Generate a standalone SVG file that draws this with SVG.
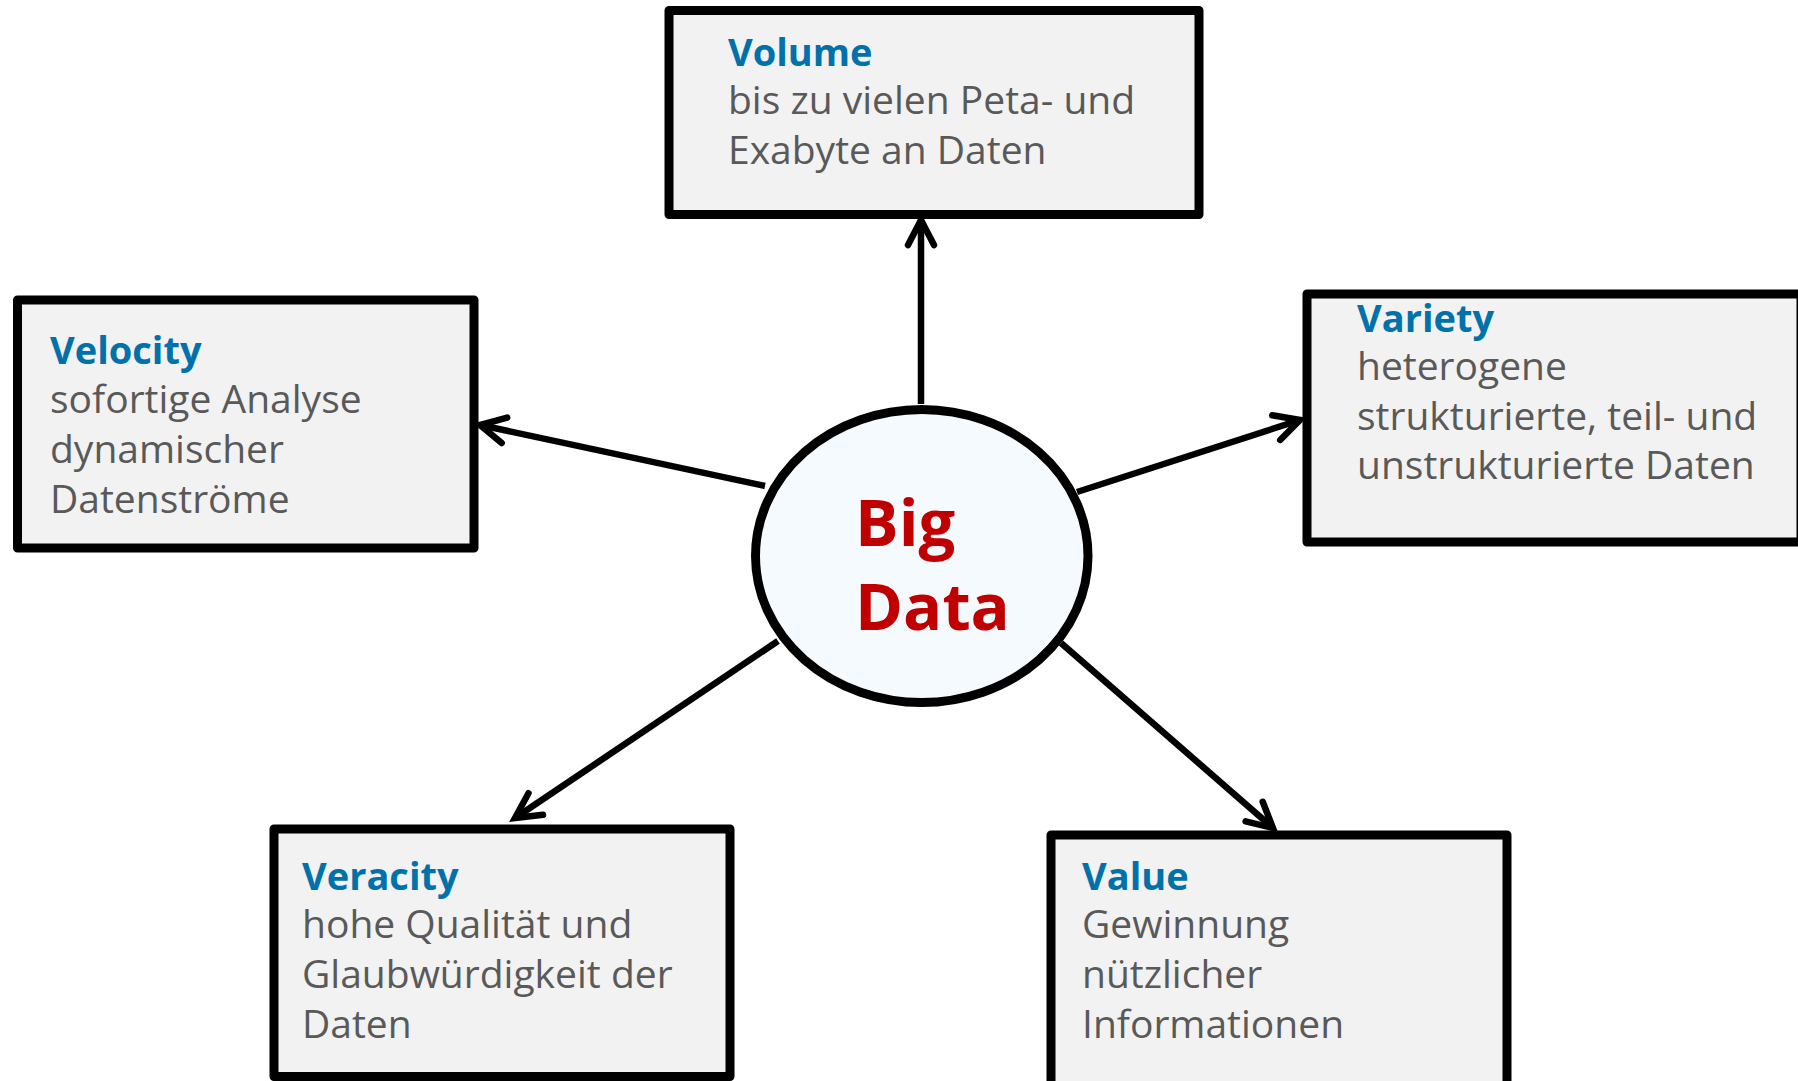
<svg xmlns="http://www.w3.org/2000/svg" width="1798" height="1081" viewBox="0 0 1798 1081">
<style>
.box{fill:#F2F2F2;stroke:#000;stroke-width:9;stroke-linejoin:round}
.t{font-family:"Open Sans","Noto Sans","DejaVu Sans",sans-serif;font-weight:700;font-size:38px;fill:#0071AB}
.b{font-family:"Open Sans","Noto Sans","DejaVu Sans",sans-serif;font-size:39px;fill:#595959}
.c{fill:none;stroke:#000;stroke-width:6.5;marker-end:url(#ah)}
.big{font-family:"Open Sans","Noto Sans","DejaVu Sans",sans-serif;font-weight:700;font-size:65px;fill:#C00000}
</style>
<defs>
<marker id="ah" markerUnits="userSpaceOnUse" markerWidth="40" markerHeight="40" refX="0" refY="0" orient="auto" overflow="visible">
<path d="M-25,-13 L0,0 L-25,13" fill="none" stroke="#000" stroke-width="6.5" stroke-linecap="round" stroke-linejoin="miter"/>
</marker>
</defs>
<rect width="1798" height="1081" fill="#fff"/>
<g id="connectors">
<line class="c" x1="921" y1="404" x2="921" y2="220"/>
<line class="c" x1="765" y1="486" x2="480" y2="425"/>
<line class="c" x1="1077" y1="492" x2="1300" y2="420"/>
<line class="c" x1="778" y1="641" x2="515" y2="818"/>
<line class="c" x1="1061" y1="643" x2="1273" y2="828"/>
</g>
<g id="volume">
<rect class="box" x="669" y="10.5" width="530" height="204"/>
<text class="t" x="728" y="66">Volume</text>
<text class="b" x="728" y="114">bis zu vielen Peta- und</text>
<text class="b" x="728" y="164">Exabyte an Daten</text>
</g>
<g id="velocity">
<rect class="box" x="17.5" y="300" width="456.5" height="248"/>
<text class="t" x="50" y="364">Velocity</text>
<text class="b" x="50" y="413">sofortige Analyse</text>
<text class="b" x="50" y="463">dynamischer</text>
<text class="b" x="50" y="513">Datenströme</text>
</g>
<g id="variety">
<rect class="box" x="1307" y="294" width="494" height="248"/>
<text class="t" x="1357" y="332">Variety</text>
<text class="b" x="1357" y="380">heterogene</text>
<text class="b" x="1357" y="430">strukturierte, teil- und</text>
<text class="b" x="1357" y="479">unstrukturierte Daten</text>
</g>
<g id="veracity">
<rect class="box" x="274" y="829" width="456" height="247.5"/>
<text class="t" x="302" y="890">Veracity</text>
<text class="b" x="302" y="938">hohe Qualität und</text>
<text class="b" x="302" y="988">Glaubwürdigkeit der</text>
<text class="b" x="302" y="1038">Daten</text>
</g>
<g id="value">
<rect class="box" x="1051" y="835" width="456" height="252"/>
<text class="t" x="1082" y="890">Value</text>
<text class="b" x="1082" y="938">Gewinnung</text>
<text class="b" x="1082" y="988">nützlicher</text>
<text class="b" x="1082" y="1038">Informationen</text>
</g>
<g id="bigdata">
<ellipse cx="921.75" cy="556" rx="166.25" ry="146.5" fill="#F5FAFE" stroke="#000" stroke-width="9"/>
<text class="big" x="855" y="546">Big</text>
<text class="big" x="855" y="630">Data</text>
</g>
</svg>
